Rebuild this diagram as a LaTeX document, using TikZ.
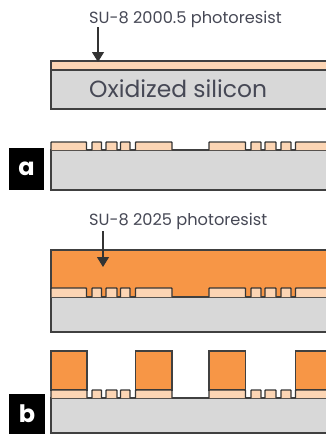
\documentclass[tikz,border=0pt]{standalone}
\usepackage{fontspec}
\setmainfont{Poppins}
\usetikzlibrary{arrows.meta, positioning}
\definecolor{colSilicon}{RGB}{216,216,216}
\definecolor{colThin}{RGB}{252,213,180}
\definecolor{colThick}{RGB}{247,150,70}
\definecolor{colBorder}{RGB}{64,64,64}
\definecolor{colLabel}{RGB}{70,72,85}
\tikzset{
  siliconBox/.style={
    draw=colBorder, line width=1.3pt, fill=colSilicon
  },
  thinBox/.style={
    draw=colBorder!85!black, line width=1.4pt, fill=colThin, rounded corners=0.6pt
  },
  thickBox/.style={
    draw=colBorder, line width=1.3pt, fill=colThick
  },
  arr/.style={
    -{Triangle[length=10pt, width=12pt]}, line width=1.2pt, color=black!80
  },
  resistLabel/.style={
    font=\fontsize{16.2pt}{17pt}\selectfont, text=colLabel, anchor=base west, inner sep=0pt
  },
  waferLabel/.style={
    font=\fontsize{23.4pt}{24pt}\selectfont, text=colLabel, anchor=base west, inner sep=0pt
  },
  stepLabel/.style={
    fill=black, text=white, font=\fontsize{24pt}{25pt}\selectfont\bfseries,
    minimum width=35pt, minimum height=42pt, inner sep=0pt
  }
}

\begin{document}
\begin{tikzpicture}[x=1pt, y=-1pt]
  \useasboundingbox (0,0) rectangle (325,434);

  % thin resist on the wafer
  \draw[siliconBox] (51,70) rectangle (330,109);
  \draw[thickBox, fill=colThin] (51,61) rectangle (330,70);
  \node[resistLabel] (thinLabel) at (89,23) {SU-8 2000.5 photoresist};
  \node[waferLabel] (waferName) at (89,97) {Oxidized silicon};
  \coordinate (thinTop) at (98,27);
  \coordinate (thinEnd) at (98,62);
  \draw[arr] (thinTop) -- (thinEnd);

  % patterned thin resist
  \draw[siliconBox] (51,150) rectangle (330,190);
  \draw[thinBox] (51,150) |- (86.5,142) -- (86.5,150) (92,150) |- (101.5,142) -- (101.5,150)
    (106,150) |- (117,142) -- (117,150) (120.5,150) |- (130,142) -- (130,150)
    (135.5,150) |- (172,142) -- (172,150) (209,150) |- (245.5,142) -- (245.5,150)
    (251,150) |- (261,142) -- (261,150) (265,150) |- (276,142) -- (276,150)
    (281,150) |- (291,142) -- (291,150) (295.5,150) |- (330,142) -- (330,150);
  \node[stepLabel] (stepA) at (26.5,169) {a};

  % thick resist poured over the pattern
  \draw[siliconBox] (51,297) rectangle (330,332);
  \draw[thickBox] (51,297) -- (51,250) -- (330,250) -- (330,297) -- cycle;
  \draw[thinBox] (51,297) |- (86.5,288) -- (86.5,297) (92,297) |- (101.5,288) -- (101.5,297)
    (106,297) |- (117,288) -- (117,297) (120.5,297) |- (130,288) -- (130,297)
    (135.5,297) |- (172,288) -- (172,297) (209,297) |- (245.5,288) -- (245.5,297)
    (251,297) |- (261,288) -- (261,297) (265,297) |- (276,288) -- (276,297)
    (281,297) |- (291,288) -- (291,297) (295.5,297) |- (330,288) -- (330,297);
  \node[resistLabel] (thickLabel) at (89,225) {SU-8 2025 photoresist};
  \coordinate (thickTop) at (103,231);
  \coordinate (thickEnd) at (103,267);
  \draw[arr] (thickTop) -- (thickEnd);

  % developed blocks
  \draw[siliconBox] (51,398) rectangle (330,433);
  \draw[thickBox] (51,351) rectangle (87,390) (135.5,351) rectangle (172,390)
    (209,351) rectangle (245.5,390) (295.5,351) rectangle (330,390);
  \draw[thinBox] (51,398) |- (87,390) -- (87,398) (92,398) |- (101.5,390) -- (101.5,398)
    (106,398) |- (117,390) -- (117,398) (120.5,398) |- (130,390) -- (130,398)
    (135.5,398) |- (172,390) -- (172,398) (209,398) |- (245.5,390) -- (245.5,398)
    (251,398) |- (261,390) -- (261,398) (265,398) |- (276,390) -- (276,398)
    (281,398) |- (291,390) -- (291,398) (295.5,398) |- (330,390) -- (330,398);
  \node[stepLabel, minimum width=36pt, minimum height=40pt] (stepB) at (27,414) {b};

\end{tikzpicture}
\end{document}
